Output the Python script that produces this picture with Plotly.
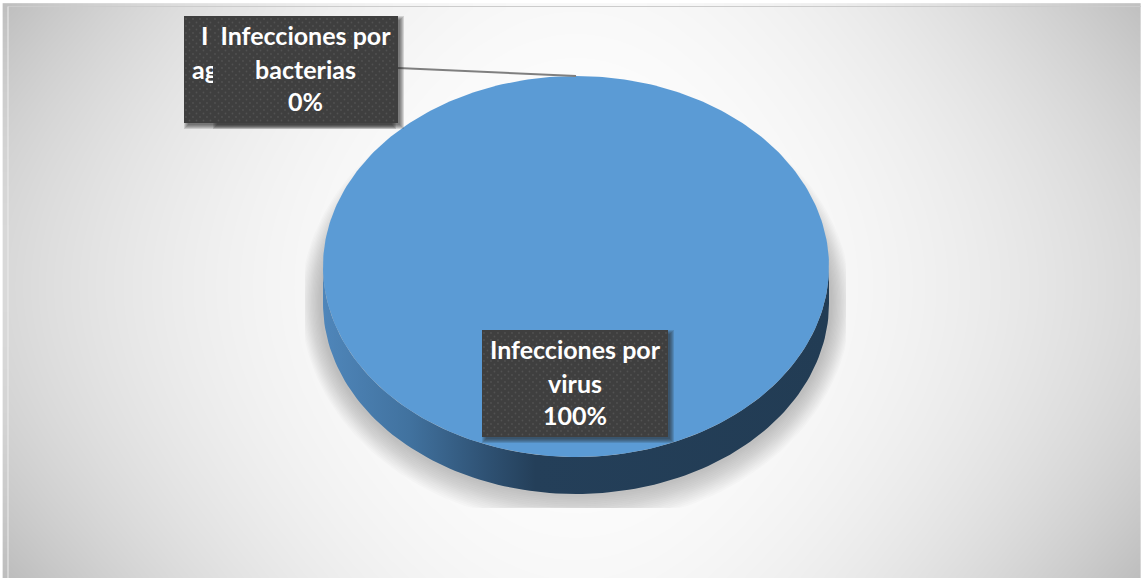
import numpy as np
import plotly.graph_objects as go

categories = ["Infecciones por virus", "Infecciones por bacterias", "Infecciones por agentes"]
shares = [100, 0, 0]
label_lines = [["Infecciones por", "virus"], ["Infecciones por", "bacterias"]]
clipped_label = ["I", "ag"]

W, H = 1141, 578
CX, CY, RX, RY, DEPTH = 576, 266.5, 253, 190.5, 37
FONT = "Lato"
FS = 25

fig = go.Figure()

# chart-area background
gx = np.linspace(9, 1139, 90)
gy = np.linspace(8, 577, 60)
a = ((gx - 576) / 565)[None, :] ** 2
b = ((gy[:, None] - 285) / 285) ** 2
dark = 38 * a + 7 * b + 19 * a * b
fig.add_trace(go.Heatmap(x=gx, y=gy, z=255 - dark, zmin=0, zmax=255, zsmooth="best", showscale=False,
                         colorscale=[[0, "rgb(0,0,0)"], [1, "rgb(255,255,255)"]], hoverinfo="skip"))

def poly(x, y, **kw):
    fig.add_trace(go.Scatter(x=x, y=y, mode="lines", line=dict(width=0), fill="toself", hoverinfo="skip", **kw))

# soft ground shadow under the pie
t = np.linspace(0, 2 * np.pi, 181)
for i in range(16):
    k = 1 - i / 16
    sx = CX + (RX + 20 * k + 2) * np.cos(t)
    sy = CY + 36 + (RY + 30 * k + 2) * np.sin(t)
    poly(np.clip(sx, 305, 846), np.clip(sy, 0, 508), fillcolor="rgba(90,90,90,0.025)")

# pie side wall and top, slices taken from the shares
total = sum(shares)
wt = np.linspace(0, np.pi, 121)
wx = CX + RX * np.cos(wt)
wy = CY + RY * np.sin(wt)
fig.add_trace(go.Scatter(
    x=np.r_[wx, wx[::-1]], y=np.r_[wy + DEPTH, wy[::-1]], mode="lines", line=dict(width=0), fill="toself",
    hoverinfo="skip", fillcolor="#243f59",
    fillgradient=dict(type="horizontal", start=323, stop=829, colorscale=[
        [0, "#4f86ba"], [0.17, "#41729f"], [0.32, "#2f5274"], [0.42, "#243f59"], [1, "#223c54"]])))

angle = 0.0
for name, share in zip(categories, shares):
    if share > 0:
        n = max(int(share * 3.6), 2) + 1
        th = np.radians(np.linspace(angle, angle + share / total * 360, n))
        poly(CX + RX * np.sin(th), CY - RY * np.cos(th), fillcolor="#5b9bd5", name=name)
    angle += share / total * 360

# leader line for the 0% slice
fig.add_trace(go.Scatter(x=[398, CX], y=[68, CY - RY], mode="lines", line=dict(color="#7f7f7f", width=2), hoverinfo="skip"))

def box(x0, x1, y0, y1):
    for g in range(5, 0, -1):
        poly([x0 + 5 - g, x1 + 1 + g, x1 + 1 + g, x0 + 5 - g], [y0 + 5 - g, y0 + 5 - g, y1 + 1 + g, y1 + 1 + g],
             fillcolor="rgba(40,40,40,0.16)")
    poly([x0, x1, x1, x0], [y0, y0, y1, y1], fillcolor="#3f3f3f")
    px, py = [], []
    for r, yy in enumerate(np.arange(y0 + 3, y1, 3.5)):
        for xx in np.arange(x0 + 2 + (r % 2) * 3.5, x1 - 1, 7):
            px.append(xx); py.append(yy)
    fig.add_trace(go.Scatter(x=px, y=py, mode="markers", marker=dict(size=1.8, color="#525252"), hoverinfo="skip"))

def text(x, y, s, pos="middle center"):
    fig.add_trace(go.Scatter(x=[x], y=[y], mode="text", text=[s], textposition=pos, hoverinfo="skip",
                             textfont=dict(family=FONT, size=FS, color="white", weight="bold")))

# third label, mostly hidden behind the bacterias label
box(184, 390, 16, 123)
text(201, 39, clipped_label[0], "middle right")
text(192, 73, clipped_label[1], "middle right")
# bacterias label
box(213, 398, 16, 123)
text(305.5, 39, label_lines[1][0]); text(305.5, 73, label_lines[1][1]); text(305.5, 105, f"{shares[1]}%")
# virus label
box(482, 668, 330, 437)
text(575, 353, label_lines[0][0]); text(575, 387, label_lines[0][1]); text(575, 419, f"{shares[0]}%")

fig.update_layout(
    width=W, height=H, margin=dict(l=0, r=0, t=0, b=0), showlegend=False,
    paper_bgcolor="white", plot_bgcolor="white",
    xaxis=dict(range=[0, W], visible=False, fixedrange=True),
    yaxis=dict(range=[H, 0], visible=False, fixedrange=True),
    shapes=[dict(type="line", x0=8, x1=1141, y0=6.5, y1=6.5, line=dict(color="#cccccc", width=1)),
            dict(type="line", x0=8, x1=8, y0=6.5, y1=578, line=dict(color="#ececec", width=1))],
)
fig.write_html("out.html", config={"displayModeBar": False},
               post_script="document.body.style.margin='0';")
